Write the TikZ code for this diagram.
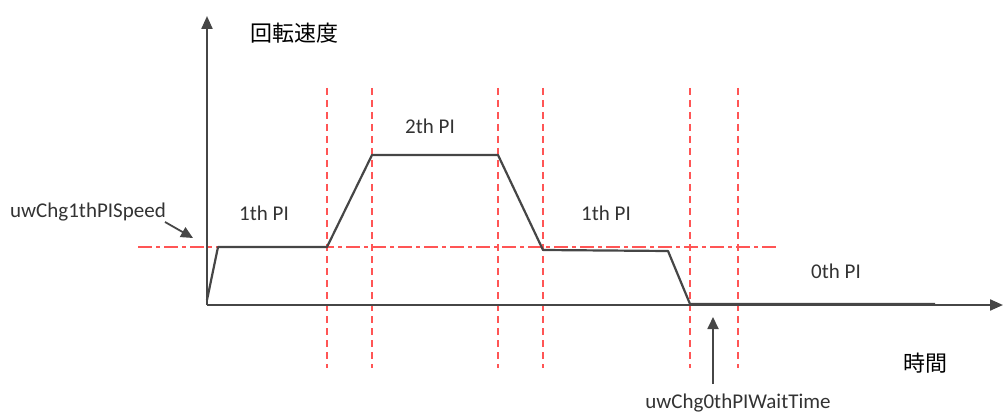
\documentclass[tikz,border=0pt]{standalone}
\usepackage{fontspec}
\setmainfont{Carlito}
\newfontfamily\cjk{Noto Sans CJK JP}
\usetikzlibrary{arrows.meta}
\definecolor{curvegray}{HTML}{464646}
\definecolor{guidered}{HTML}{FF5555}
\tikzset{
  axisline/.style={line width=2.2pt, draw=curvegray, -{Triangle[length=13pt,width=11pt]}},
  curveline/.style={line width=2.2pt, draw=curvegray, line join=round},
  vguide/.style={line width=2.2pt, draw=guidered, dash pattern=on 7pt off 5pt},
  hguide/.style={line width=2pt, draw=guidered, dash pattern=on 14pt off 4pt on 4pt off 4pt},
  lbl/.style={font=\fontsize{21}{24}\selectfont, text=black!80, inner sep=0pt},
  jlbl/.style={font=\cjk\fontsize{22}{26}\selectfont, inner sep=0pt},
  pointer/.style={line width=1.8pt, draw=curvegray, -{Triangle[length=12pt,width=11pt]}}
}
\begin{document}
\begin{tikzpicture}[x=1pt,y=-1pt]
\useasboundingbox (0,0) rectangle (1003,414);
% guide coordinates
\foreach \n/\x in {a/327,b/372,c/498,d/543,e/690,f/738}{
  \coordinate (\n top) at (\x,88);
  \coordinate (\n bot) at (\x,368);
}
\foreach \n in {a,b,c,d,e,f}{ \draw[vguide] (\n top) -- (\n bot); }
\coordinate (hl) at (138,247);
\coordinate (hr) at (778,247);
\draw[hguide] (hl) -- (hr);
% axes
\coordinate (O) at (207,305);
\coordinate (ytip) at (207,16);
\coordinate (xtip) at (1003,305);
\draw[axisline] (O) -- (ytip);
\draw[axisline] (O) -- (xtip);
% curve
\coordinate (p0) at (207,300);
\coordinate (p1) at (218,247);
\coordinate (p2) at (327,247);
\coordinate (p3) at (372,155);
\coordinate (p4) at (498,155);
\coordinate (p5) at (543,250);
\coordinate (p6) at (668,251);
\coordinate (p7) at (690,304);
\coordinate (p8) at (935,304);
\draw[curveline] (p0) -- (p1) -- (p2) -- (p3) -- (p4) -- (p5) -- (p6) -- (p7) -- (p8);
% labels
\node[jlbl] (ylab) at (294,33) {回転速度};
\node[jlbl] (xlab) at (925,363) {時間};
\node[lbl] (l1) at (264,213) {1th PI};
\node[lbl] (l2) at (430,126) {2th PI};
\node[lbl] (l3) at (606,213) {1th PI};
\node[lbl] (l4) at (836,271) {0th PI};
\node[lbl, anchor=east] (spd) at (166,212) {uwChg1thPISpeed};
\coordinate (spdtip) at (193,238);
\draw[pointer] (165,222) -- (spdtip);
\node[lbl, anchor=north] (wt) at (738,394) {uwChg0thPIWaitTime};
\coordinate (wttip) at (713,317);
\draw[pointer] (713,384) -- (wttip);
\end{tikzpicture}
\end{document}
